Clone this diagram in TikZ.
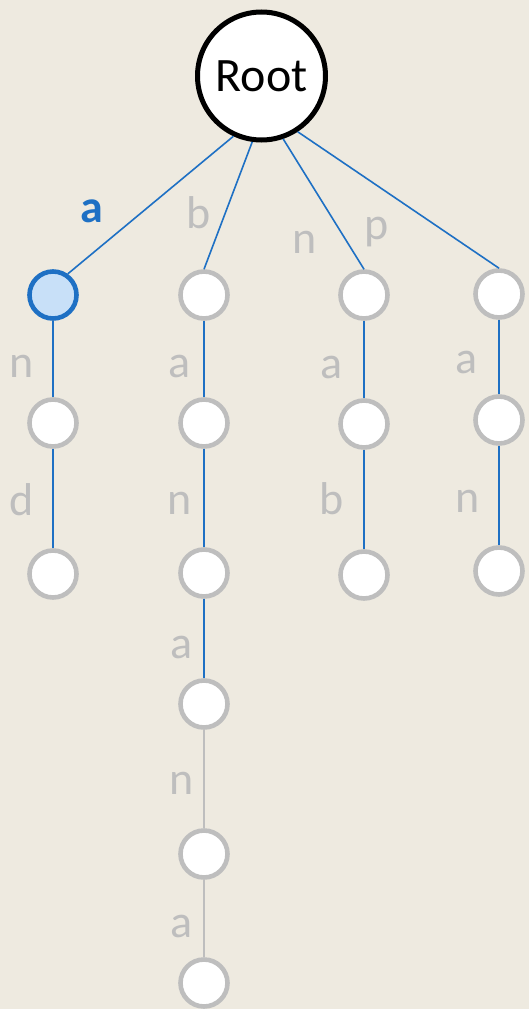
\documentclass[tikz,border=0pt]{standalone}
\usepackage{fontspec}
\setmainfont{Carlito}
\definecolor{bg}{RGB}{238,234,224}
\definecolor{tblue}{RGB}{30,112,196}
\definecolor{tgray}{RGB}{190,190,190}
\definecolor{hlfill}{RGB}{200,224,248}
\begin{document}
\begin{tikzpicture}[x=1pt,y=-1pt,
  trie/.style={circle,draw=tgray,fill=white,line width=4.6pt,minimum size=47pt,inner sep=0pt},
  hl/.style={trie,draw=tblue,fill=hlfill},
  rootnode/.style={circle,draw=black,fill=white,line width=5pt,minimum size=128pt,inner sep=0pt,font=\fontsize{48}{50}\selectfont},
  lbl/.style={anchor=base,inner sep=0pt,text=tgray,font=\fontsize{46}{48}\selectfont},
  blbl/.style={lbl,text=tblue,font=\fontsize{46}{48}\selectfont\bfseries},
  bedge/.style={draw=tblue,line width=1.6pt},
  gedge/.style={draw=tgray,line width=2pt}]
\fill[bg] (0,0) rectangle (529,1009);
\useasboundingbox (0,0) rectangle (529,1009);
\node[rootnode] (r) at (261.5,76) {Root};
% level 1
\node[hl] (a1) at (53,295) {};
\node[trie] (b1) at (204,295) {};
\node[trie] (c1) at (364,295) {};
\node[trie] (d1) at (499,294) {};
% level 2
\node[trie] (a2) at (53,423) {};
\node[trie] (b2) at (204,423) {};
\node[trie] (c2) at (364,424) {};
\node[trie] (d2) at (499,420) {};
% level 3
\node[trie] (a3) at (53,574) {};
\node[trie] (b3) at (204,573) {};
\node[trie] (c3) at (364,575) {};
\node[trie] (d3) at (499,571) {};
% col 2 deeper
\node[trie] (b4) at (204,704) {};
\node[trie] (b5) at (204,854) {};
\node[trie] (b6) at (204,983) {};
% edges
\draw[bedge] (r.245) -- (a1.55);
\draw[bedge] (r.262) -- (b1.north);
\draw[bedge] (r.289) -- (c1.north);
\draw[bedge] (r.303) -- (d1.north);
\draw[bedge] (a1.south) -- (a2.north);
\draw[bedge] (a2.south) -- (a3.north);
\draw[bedge] (b1.south) -- (b2.north);
\draw[bedge] (b2.south) -- (b3.north);
\draw[bedge] (b3.south) -- (b4.north);
\draw[gedge] (b4.south) -- (b5.north);
\draw[gedge] (b5.south) -- (b6.north);
\draw[bedge] (c1.south) -- (c2.north);
\draw[bedge] (c2.south) -- (c3.north);
\draw[bedge] (d1.south) -- (d2.north);
\draw[bedge] (d2.south) -- (d3.north);
% labels
\node[blbl] (la) at (92,222) {a};
\node[lbl] (lb) at (199,228) {b};
\node[lbl] (ln) at (305,253) {n};
\node[lbl] (lp) at (377,239) {p};
\node[lbl] (l21) at (22,377) {n};
\node[lbl] (l22) at (180,377) {a};
\node[lbl] (l23) at (332,378) {a};
\node[lbl] (l24) at (467,373) {a};
\node[lbl] (l31) at (22,515) {d};
\node[lbl] (l32) at (180,514) {n};
\node[lbl] (l33) at (332,514) {b};
\node[lbl] (l34) at (468,512) {n};
\node[lbl] (l42) at (182,658) {a};
\node[lbl] (l52) at (182,794) {n};
\node[lbl] (l62) at (182,937) {a};
\end{tikzpicture}
\end{document}
